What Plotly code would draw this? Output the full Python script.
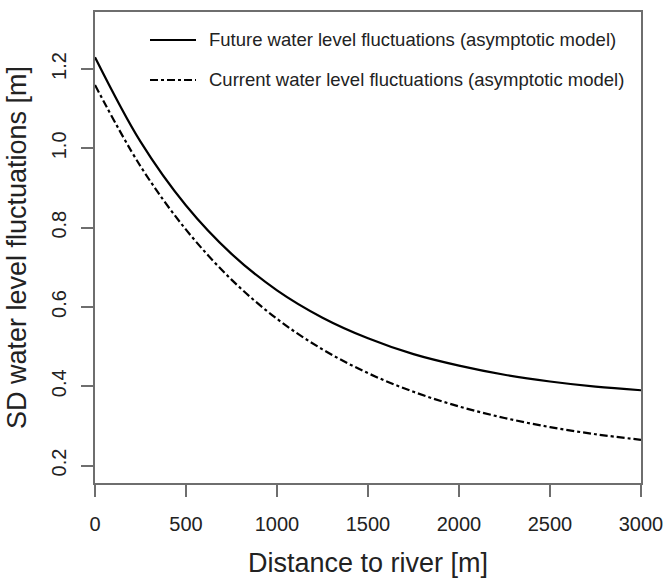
import plotly.graph_objects as go

# Distance from the river [m]
distance = [0, 250, 500, 750, 1000, 1250, 1500, 1750, 2000, 2250, 2500, 2750, 3000]

# Standard deviation of water level fluctuations [m]
future_sd = [1.230, 1.017, 0.856, 0.734, 0.642, 0.573, 0.521, 0.481, 0.452, 0.429, 0.412, 0.399, 0.390]
current_sd = [1.160, 0.955, 0.795, 0.669, 0.570, 0.493, 0.433, 0.386, 0.349, 0.320, 0.297, 0.279, 0.265]

series_names = [
    "Future water level fluctuations (asymptotic model)",
    "Current water level fluctuations (asymptotic model)",
]
series_dash = ["solid", "8px,3px,3px,3px"]

x_ticks = [0, 500, 1000, 1500, 2000, 2500, 3000]
y_ticks = [0.2, 0.4, 0.6, 0.8, 1.0, 1.2]
y_tick_text = ["0.2", "0.4", "0.6", "0.8", "1.0", "1.2"]

FONT = "Liberation Sans, Arial, sans-serif"
AXIS_GREY = "#6e6e6e"
TEXT = "#222222"
LINE_W = 2.2

fig = go.Figure()
for ys, name, dash in zip([future_sd, current_sd], series_names, series_dash):
    fig.add_trace(go.Scatter(
        x=distance, y=ys, mode="lines", name=name, showlegend=False,
        line=dict(color="black", width=LINE_W, shape="spline", smoothing=1.0, dash=dash),
    ))

# Key in the upper part of the panel: a line sample and its label per series
W, H = 664, 580
ML, MR, MT, MB = 95, 23, 12, 97
pw, ph = W - ML - MR, H - MT - MB
key_rows_y = [40, 80]          # px from top of page
key_x0, key_x1, key_text_x = 150, 196, 207
for row_y, name, dash in zip(key_rows_y, series_names, series_dash):
    yp = 1 - (row_y - MT) / ph
    fig.add_shape(type="line", xref="paper", yref="paper",
                  x0=(key_x0 - ML) / pw, x1=(key_x1 - ML) / pw, y0=yp, y1=yp,
                  line=dict(color="black", width=LINE_W, dash=dash))
    fig.add_annotation(xref="paper", yref="paper", x=(key_text_x - ML) / pw, y=yp,
                       xanchor="left", yanchor="middle", showarrow=False,
                       text=name, font=dict(size=18.5, color=TEXT))

fig.update_layout(
    width=W, height=H,
    margin=dict(l=ML, r=MR, t=MT, b=MB),
    paper_bgcolor="white", plot_bgcolor="white",
    font=dict(family=FONT, size=20, color=TEXT),
    showlegend=False,
)

fig.update_xaxes(
    range=[0, 3000], tickvals=x_ticks, automargin=False,
    showgrid=False, zeroline=False,
    showline=True, linecolor=AXIS_GREY, linewidth=1.5, mirror=True,
    ticks="outside", ticklen=12, tickwidth=1.5, tickcolor=AXIS_GREY,
    ticklabelstandoff=10,
    title=dict(text="Distance to river [m]", font=dict(size=27, color=TEXT), standoff=19),
)
fig.update_yaxes(
    range=[0.156, 1.344], tickvals=y_ticks, ticktext=y_tick_text, automargin=False,
    tickangle=-90,
    showgrid=False, zeroline=False,
    showline=True, linecolor=AXIS_GREY, linewidth=1.5, mirror=True,
    ticks="outside", ticklen=12, tickwidth=1.5, tickcolor=AXIS_GREY,
    ticklabelstandoff=7,
    title=dict(text="SD water level fluctuations [m]", font=dict(size=27, color=TEXT), standoff=14),
)

fig.write_html("out.html")
